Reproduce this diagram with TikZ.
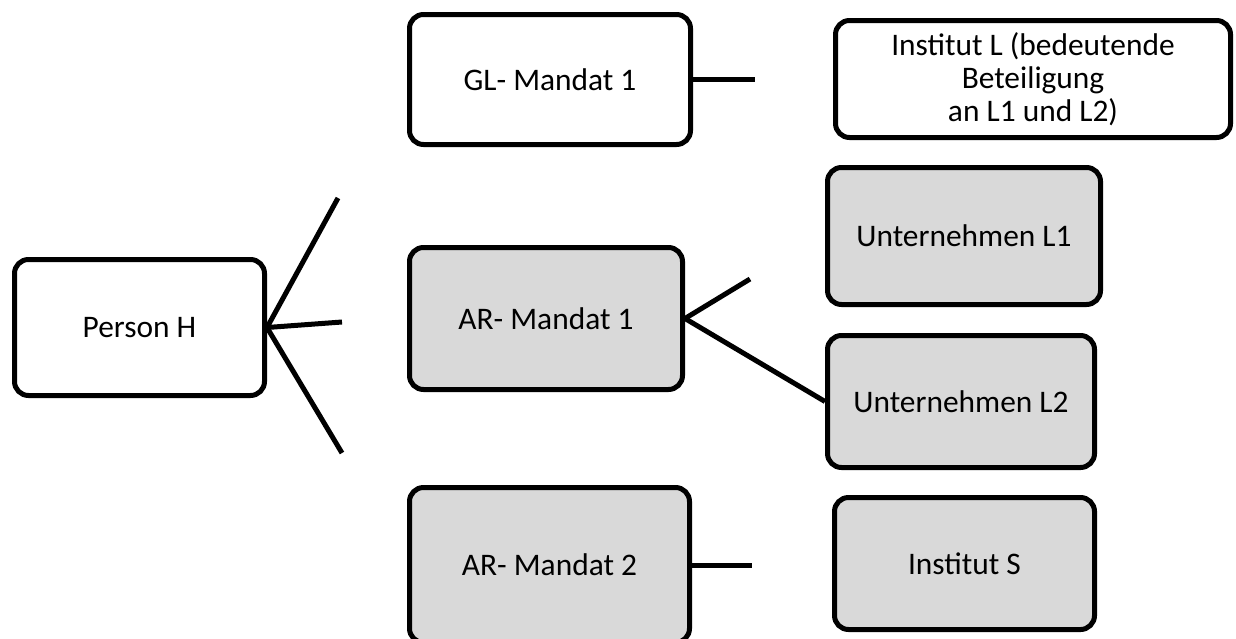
\documentclass[tikz,border=0pt]{standalone}
\usepackage{fontspec}
\setmainfont{Carlito}
\definecolor{boxgray}{HTML}{D9D9D9}

\begin{document}
\begin{tikzpicture}[x=0.5pt, y=-0.5pt, line width=2.5pt, every node/.style = {shape=rectangle, rounded corners=7pt, draw, align=center, inner sep=2pt, font=\fontsize{15.7}{16.5}\selectfont}, whitebox/.style = {fill=white}, graybox/.style = {fill=boxgray}]
                \useasboundingbox (0,0) rectangle (1236,638);
                \node[whitebox, minimum width=125pt, minimum height=68pt] (personH) at (139.5,327.5) {Person H};
                \node[whitebox, minimum width=140.5pt, minimum height=65pt] (glMandat) at (550,79.5) {GL- Mandat 1};
                \node[graybox, minimum width=136.5pt, minimum height=71pt] (arMandatA) at (546,318.5) {AR- Mandat 1};
                \node[graybox, minimum width=140pt, minimum height=77.5pt] (arMandatB) at (549.5,565) {AR- Mandat 2};
                \node[whitebox, minimum width=197.5pt, minimum height=58.5pt] (institutL) at (1033,79) {Institut L (bedeutende\\Beteiligung\\an L1 und L2)};
                \node[graybox, minimum width=136.5pt, minimum height=68.5pt] (unternehmenA) at (964,236) {Unternehmen L1};
                \node[graybox, minimum width=133.5pt, minimum height=66pt] (unternehmenB) at (961,401.5) {Unternehmen L2};
                \node[graybox, minimum width=130pt, minimum height=66pt] (institutS) at (964.5,563.5) {Institut S};
                % free line ends
                \coordinate (personUp) at (338,198);
                \coordinate (personMid) at (342,322);
                \coordinate (personDown) at (342,453);
                \coordinate (glEnd) at (755,79.5);
                \coordinate (arAEnd) at (750,279);
                \coordinate (arBEnd) at (752,565);
                \draw (personH.east) -- (personUp);
                \draw (personH.east) -- (personMid);
                \draw (personH.east) -- (personDown);
                \draw (glMandat.east) -- (glEnd);
                \draw (arMandatA.east) -- (arAEnd);
                \draw (arMandatA.east) -- (unternehmenB.west);
                \draw (arMandatB.east) -- (arBEnd);
            \end{tikzpicture}
\end{document}
